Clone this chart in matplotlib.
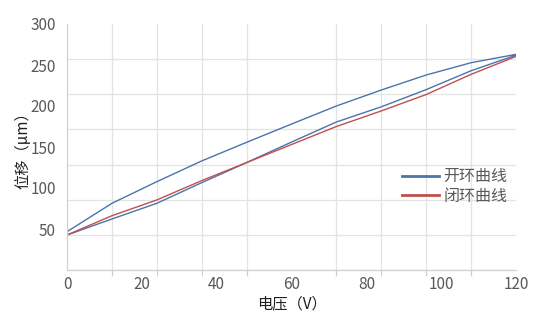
import matplotlib
matplotlib.use("Agg")
import matplotlib.pyplot as plt
import numpy as np
from matplotlib.ticker import FixedLocator

plt.rcParams["font.family"] = ["Noto Sans CJK SC", "DejaVu Sans"]

# voltage steps (V)
voltage = [0, 12, 24, 36, 48, 60, 72, 84, 96, 108, 120]
# open loop: rising branch and falling branch (um)
open_up = [42.7, 62.2, 81.3, 106.5, 131.0, 156.0, 180.5, 199.0, 220.0, 243.0, 262.0]
open_down = [46.7, 81.3, 107.7, 133.0, 155.7, 178.0, 200.0, 219.5, 237.8, 252.8, 263.0]
# closed loop (um)
closed = [42.7, 66.2, 85.4, 109.0, 131.0, 153.0, 175.0, 194.0, 214.0, 238.6, 260.5]

x_labels = [0, 20, 40, 60, 80, 100, 120]
y_labels = [50, 100, 150, 200, 250, 300]

blue = "#4a74aa"
red = "#c0504d"
grid_c = "#e3e3e3"
text_c = "#595959"

fig = plt.figure(figsize=(5.48, 3.32), dpi=100)
ax = fig.add_axes([67 / 548, 1 - 270 / 332, 449 / 548, 246 / 332])

loop_x = voltage + voltage[::-1]
loop_y = open_up + open_down[::-1]
ax.plot(loop_x, loop_y, color=blue, lw=1.0)
ax.plot(voltage, closed, color=red, lw=1.0)

ax.set_xlim(0, 120)
ax.set_ylim(0, 300)

ax.xaxis.set_major_locator(FixedLocator(x_labels))
ax.xaxis.set_minor_locator(FixedLocator(np.arange(0, 121, 12)))
ax.yaxis.set_major_locator(FixedLocator(y_labels))
ax.yaxis.set_minor_locator(FixedLocator(np.arange(8) * 300 / 7))

ax.grid(False, which="major")
ax.grid(True, which="minor", color=grid_c, lw=0.9)
ax.set_axisbelow(True)

ax.tick_params(axis="x", which="major", length=0, pad=4, labelsize=11, labelcolor=text_c)
ax.tick_params(axis="x", which="minor", length=4, color="#d0d0d0", width=0.9)
ax.tick_params(axis="y", which="both", length=0, pad=8, labelsize=11, labelcolor=text_c)

for s in ["top", "right"]:
    ax.spines[s].set_visible(False)
for s in ["left", "bottom"]:
    ax.spines[s].set_color("#d0d0d0")
    ax.spines[s].set_linewidth(0.9)

ax.set_xlabel("电压（V）", fontsize=11, color="#1f1f1f", labelpad=2)
ax.set_ylabel("位移（μm）", fontsize=11, color="#1f1f1f", labelpad=-1)

h1, = ax.plot([], [], color=blue, lw=2)
h2, = ax.plot([], [], color=red, lw=2)
leg = ax.legend([h1, h2], ["开环曲线", "闭环曲线"], loc="center left",
                bbox_to_anchor=(0.715, 0.34), frameon=False, fontsize=11.5,
                handlelength=2.3, handletextpad=0.25, labelspacing=0.15)
for t in leg.get_texts():
    t.set_color(text_c)

fig.savefig("out.png", dpi=100)
